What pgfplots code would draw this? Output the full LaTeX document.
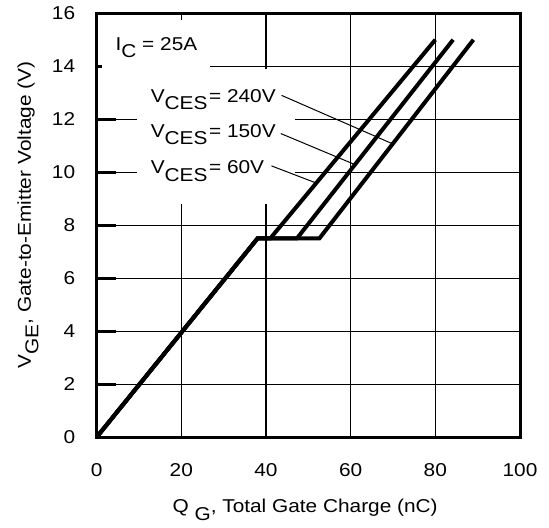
\documentclass[border=0pt]{standalone}
\usepackage{fontspec}
\setmainfont[FakeStretch=1.12]{Liberation Sans}
\usepackage{pgfplots}
\pgfplotsset{compat=1.18}

\newcommand\sub[1]{\raisebox{-3.8pt}{#1}}
\newcommand\lbl{\fontsize{9.3}{11}\selectfont}

\begin{document}
\begin{tikzpicture}
\begin{axis}[
    scale only axis,
    width=211.7pt, height=212pt,
    xmin=0, xmax=100, ymin=0, ymax=16,
    xtick={0,20,...,100}, ytick={0,2,...,16},
    grid=major,
    major grid style={black, line width=0.65pt},
    axis line style={line width=1.5pt},
    xtick style={draw=none},
    ytick pos=left, tick align=inside,
    ytick style={black, line width=1.3pt},
    major tick length=9.5pt,
    /pgf/number format/assume math mode=true,
    ticklabel style={font=\lbl},
    xticklabel shift=9.75pt, yticklabel shift=7.2pt,
    label style={font=\lbl},
    xlabel={Q \sub{G}, Total Gate Charge (nC)},
    ylabel={V\sub{GE}, Gate-to-Emitter Voltage (V)},
    xlabel style={at={([yshift=-37.85pt]axis description cs:0.4925,0)}, anchor=base},
    ylabel style={at={([xshift=-32.9pt]axis description cs:0,0.524)}, anchor=base},
]
\coordinate (sw) at (rel axis cs:0,0);
\coordinate (ne) at (rel axis cs:1,1);

% white areas behind the annotations (they hide the grid)
\fill[white] (axis cs:1.3,13.9) rectangle (axis cs:26.8,15.73);
\fill[white] (axis cs:9.5,8.8) rectangle (axis cs:46.8,13.9);

% VCE = 60 V
\addplot[black, line width=2pt] coordinates {
    (0,0) (38,7.5) (41,7.5) (80,15)
};
% VCE = 150 V
\addplot[black, line width=2pt] coordinates {
    (0,0) (38,7.5) (47.3,7.5) (84.2,15)
};
% VCE = 240 V
\addplot[black, line width=2pt] coordinates {
    (0,0) (38,7.5) (52.6,7.5) (89,15)
};

\node[anchor=base west, inner sep=0, font=\lbl] at (axis cs:4.4,14.6) {I\sub{C} = 25A};
\node[anchor=base west, inner sep=0, font=\lbl] at (axis cs:12.7,12.65) {V\sub{CES}\kern0.8pt= 240V};
\node[anchor=base west, inner sep=0, font=\lbl] at (axis cs:12.7,11.33) {V\sub{CES}\kern0.8pt= 150V};
\node[anchor=base west, inner sep=0, font=\lbl] at (axis cs:12.7,9.95) {V\sub{CES}\kern0.8pt= 60V};

\draw[black, line width=0.5pt] (axis cs:43.7,12.9) -- (axis cs:69.8,11.08);
\draw[black, line width=0.5pt] (axis cs:43.5,11.46) -- (axis cs:61,10.29);
\draw[black, line width=0.5pt] (axis cs:41.3,10.24) -- (axis cs:51.6,9.61);
\end{axis}
\path ([shift={(-48.3pt,-43.85pt)}]sw) rectangle ([shift={(14.5pt,3.15pt)}]ne);
\end{tikzpicture}
\end{document}
